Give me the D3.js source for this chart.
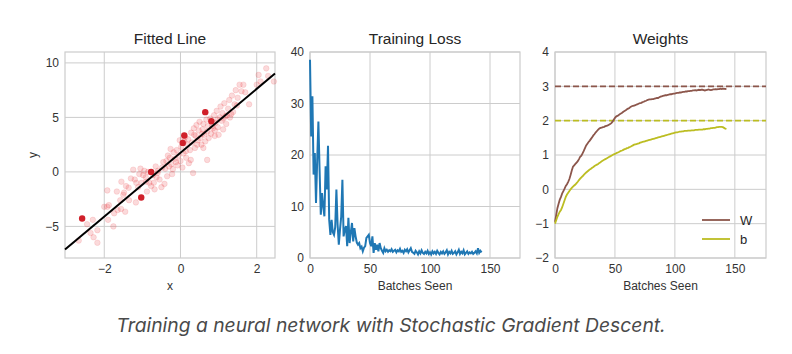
<!DOCTYPE html>
<html>
<head>
<meta charset="utf-8">
<script src="https://cdn.jsdelivr.net/npm/d3@7"></script>
<style>
  body { margin: 0; background: #fff; }
  svg text { font-family: "Liberation Sans", Arial, sans-serif; }
</style>
</head>
<body>
<div id="chart"></div>
<script>
// scatter of the training data (x, y)
let pointsX = [-2.67,-2.18,-2.36,-2.18,-2.3,-1.9,-1.76,-1.92,-1.88,-1.74,-1.65,-1.56,-1.45,-1.92,-1.67,-1.5,-1.48,-1.55,-1.43,-1.36,
  -1.24,-1.2,-1.16,-1.17,-1.11,-1.02,-0.95,-0.91,-0.82,-0.77,-0.7,-0.63,-0.59,-0.55,-0.5,-0.48,-0.42,-0.37,-0.33,-0.26,
  -0.24,-0.2,-0.15,-0.1,-0.08,-0.05,0.0,0.02,0.05,0.08,0.1,0.12,0.15,0.18,0.2,0.22,0.25,0.28,0.3,0.33,
  0.35,0.38,0.4,0.42,0.45,0.48,0.5,0.52,0.55,0.58,0.6,0.62,0.65,0.68,0.7,0.72,0.7,0.78,0.8,0.85,
  0.88,0.9,0.92,0.95,0.98,1.0,1.03,1.05,1.08,1.1,1.12,1.15,1.18,1.2,1.25,1.28,1.3,1.35,1.38,1.42,
  1.45,1.5,1.55,1.6,1.65,1.7,1.8,2.0,2.05,2.1,2.25,2.3,2.45,-0.45,-0.4,-0.35,-0.3,-0.28,-0.22,-0.18,
  -0.12,-0.6,-0.65,-0.72,-0.85,-0.88,-0.98,-1.05,-1.3,-1.35,-1.58,-2.0,-2.45,-2.28,
  -0.02,0.14,0.27,0.44,0.57,0.74,0.83,0.97,1.13,1.33,-0.68,-0.9,-1.08,0.36,0.6,0.9,1.22,1.48];
let pointsY = [-6.3,-6.5,-5.6,-5.35,-4.4,-4.4,-5.0,-3.2,-3.05,-3.8,-3.5,-3.4,-3.65,-1.7,-1.8,-2.1,-1.9,-0.9,-1.3,-1.45,
  0.2,-0.7,-1.0,-2.8,-1.4,-1.0,0.1,-0.5,-1.0,-1.3,-1.0,-0.5,0.1,-0.7,-1.4,0.4,-1.1,1.0,1.5,2.1,
  0.7,0.25,1.2,2.0,0.6,1.5,1.0,2.3,0.4,1.7,2.8,3.2,1.3,2.5,3.0,0.8,2.0,3.6,2.7,-0.1,
  4.0,2.2,3.3,4.3,2.9,3.8,4.6,3.1,2.5,3.9,4.4,3.4,2.8,4.8,3.7,4.2,1.1,4.9,3.5,4.0,
  5.2,3.8,4.5,5.6,4.1,3.4,5.0,6.0,4.7,5.4,3.9,6.3,5.1,4.4,5.8,6.6,5.0,7.0,5.5,6.2,
  7.5,6.8,8.0,7.4,8.0,7.3,6.2,8.0,8.9,8.3,9.5,8.8,8.3,0.9,0.3,-0.4,0.5,1.3,-0.2,1.8,
  0.9,-0.1,0.5,-0.3,0.0,-1.8,-0.3,0.3,-0.6,-2.6,-2.6,-3.2,-4.8,-6.0,
  2.9,1.9,1.1,2.5,3.5,3.1,4.2,4.8,4.9,5.3,-1.6,-0.9,-0.2,3.4,2.2,3.3,5.2,6.1];
// the current mini-batch
let batchX = [-2.58,-1.03,-0.77,0.06,0.1,0.65,0.81];
let batchY = [-4.27,-2.35,0.0,2.66,3.34,5.48,4.65];

// loss for each batch
let loss = [38.5,23.6,31.4,16.2,20.4,10.7,19.0,26.5,17.0,8.4,12.6,10.0,8.1,17.8,13.3,21.8,7.4,4.5,7.4,5.0,
  4.5,6.0,13.3,6.5,2.6,5.5,8.0,15.2,4.2,5.5,6.2,2.3,7.8,2.9,5.0,6.8,3.2,5.8,4.2,3.0,
  2.6,2.9,1.9,2.2,1.3,2.0,2.3,3.9,4.2,4.5,2.9,2.3,4.2,1.0,2.9,1.6,2.6,1.3,2.9,1.9,
  1.4,1.0,1.9,1.3,1.6,1.2,1.5,1.3,1.7,1.2,1.4,1.6,1.1,1.5,1.3,1.8,1.2,1.4,1.0,1.6,
  1.3,1.7,1.1,1.5,1.9,1.2,1.0,0.8,1.4,1.1,0.7,1.3,0.9,1.5,1.0,0.8,1.2,0.9,1.4,0.8,
  1.1,0.7,1.3,0.9,1.2,0.8,1.4,1.0,0.7,1.2,0.9,1.3,0.8,1.1,1.5,0.7,1.2,0.9,1.4,0.8,
  1.0,1.3,0.7,1.1,1.6,0.8,1.2,0.9,1.5,0.7,1.0,1.3,0.8,1.1,0.9,1.2,0.8,1.0,1.3,0.9,
  1.9,1.0,1.4,1.1];

// weights after each batch
let weightW = [-0.95,-0.75,-0.55,-0.42,-0.3,-0.22,-0.12,-0.05,0.02,0.1,0.15,0.22,0.3,0.42,0.55,0.66,0.7,0.74,0.78,0.82,
  0.88,0.95,0.98,1.05,1.12,1.2,1.28,1.33,1.38,1.42,1.47,1.52,1.57,1.61,1.66,1.7,1.74,1.77,1.79,1.8,
  1.81,1.82,1.84,1.85,1.86,1.88,1.9,1.93,1.97,2.03,2.08,2.12,2.14,2.16,2.19,2.21,2.23,2.26,2.28,2.3,
  2.33,2.35,2.37,2.4,2.42,2.43,2.44,2.45,2.47,2.48,2.5,2.51,2.52,2.54,2.55,2.57,2.58,2.6,2.61,2.62,
  2.62,2.63,2.63,2.64,2.65,2.66,2.66,2.68,2.7,2.71,2.72,2.73,2.74,2.74,2.75,2.76,2.77,2.77,2.78,2.79,
  2.79,2.8,2.81,2.81,2.82,2.82,2.83,2.84,2.84,2.85,2.85,2.86,2.86,2.87,2.87,2.88,2.88,2.89,2.88,2.89,
  2.9,2.89,2.9,2.9,2.89,2.88,2.89,2.9,2.91,2.9,2.89,2.9,2.91,2.91,2.92,2.91,2.92,2.92,2.93,2.92,
  2.93,2.93,2.92,2.93];
let weightB = [-1.0,-0.9,-0.8,-0.72,-0.65,-0.6,-0.52,-0.42,-0.32,-0.22,-0.15,-0.1,-0.05,0.0,0.04,0.08,0.11,0.14,0.18,0.22,
  0.27,0.31,0.35,0.38,0.42,0.46,0.49,0.52,0.55,0.58,0.6,0.63,0.65,0.68,0.7,0.72,0.74,0.77,0.79,0.82,
  0.84,0.86,0.88,0.9,0.92,0.94,0.96,0.98,1.0,1.02,1.03,1.05,1.07,1.08,1.1,1.12,1.13,1.15,1.17,1.18,
  1.2,1.21,1.23,1.24,1.26,1.28,1.3,1.31,1.32,1.33,1.34,1.36,1.37,1.38,1.39,1.4,1.41,1.42,1.43,1.44,
  1.45,1.46,1.47,1.48,1.49,1.5,1.51,1.52,1.53,1.54,1.55,1.56,1.57,1.58,1.59,1.6,1.61,1.62,1.63,1.64,
  1.65,1.66,1.66,1.67,1.68,1.68,1.69,1.69,1.7,1.7,1.7,1.71,1.71,1.71,1.72,1.72,1.72,1.73,1.73,1.73,
  1.74,1.74,1.74,1.74,1.75,1.75,1.76,1.76,1.77,1.77,1.78,1.78,1.79,1.79,1.8,1.81,1.81,1.82,1.82,1.82,
  1.81,1.79,1.77,1.76];
let trueW = 3, trueB = 2;

let ticks1X = [-2, 0, 2], ticks1Y = [-5, 0, 5, 10];
let ticks2X = [0, 50, 100, 150], ticks2Y = [0, 10, 20, 30, 40];
let ticks3X = [0, 50, 100, 150], ticks3Y = [-2, -1, 0, 1, 2, 3, 4];

let svg = d3.select("#chart").append("svg")
    .attr("width", 792)
    .attr("height", 354)

let plotTop = 52, plotBottom = 258;

function panel(left, right, xDomain, yDomain, xTicks, yTicks, title, xLabel, yLabel){
    let x = d3.scaleLinear().domain(xDomain).range([left, right])
    let y = d3.scaleLinear().domain(yDomain).range([plotBottom, plotTop])
    let g = svg.append("g")
    let fmt = d => d < 0 ? "\u2212" + Math.abs(d) : d
    // grid
    xTicks.forEach(t => {
        g.append("line").attr("x1", x(t)).attr("x2", x(t)).attr("y1", plotTop).attr("y2", plotBottom)
            .style("stroke", "#cccccc").style("stroke-width", 1)
    })
    yTicks.forEach(t => {
        g.append("line").attr("x1", left).attr("x2", right).attr("y1", y(t)).attr("y2", y(t))
            .style("stroke", "#cccccc").style("stroke-width", 1)
    })
    g.append("rect").attr("x", left).attr("y", plotTop).attr("width", right-left).attr("height", plotBottom-plotTop)
        .style("fill", "none").style("stroke", "#cccccc").style("stroke-width", 1.2)
    // axes, ticks hidden like in whitegrid
    let ax = g.append("g").attr("transform", "translate(0," + plotBottom + ")")
        .call(d3.axisBottom(x).tickValues(xTicks).tickSize(0).tickPadding(6).tickFormat(fmt))
    let ay = g.append("g").attr("transform", "translate(" + left + ",0)")
        .call(d3.axisLeft(y).tickValues(yTicks).tickSize(0).tickPadding(6).tickFormat(fmt))
    ;[ax, ay].forEach(a => {
        a.select(".domain").remove()
        a.selectAll("text").style("font-size", "12px").style("fill", "#333")
            .style("font-family", "'Liberation Sans', Arial, sans-serif")
    })
    g.append("text").attr("x", (left+right)/2).attr("y", 44).attr("text-anchor", "middle")
        .style("font-size", "15.5px").style("fill", "#262626").text(title)
    if(xLabel){
        g.append("text").attr("x", (left+right)/2).attr("y", 290).attr("text-anchor", "middle")
            .style("font-size", "12px").style("fill", "#333").text(xLabel)
    }
    if(yLabel){
        g.append("text").attr("transform", "translate(37," + ((plotTop+plotBottom)/2) + ") rotate(-90)")
            .attr("text-anchor", "middle").style("font-size", "12px").style("fill", "#333").text(yLabel)
    }
    return { x, y, g }
}

// panel 1: fitted line
let p1 = panel(65, 275, [-3.03, 2.48], [-7.9, 11], ticks1X, ticks1Y, "Fitted Line", "x", "y")
let pts = pointsX.map((v, i) => ({ x: v, y: pointsY[i] }))
p1.g.selectAll(".pt").data(pts).enter().append("circle")
    .attr("cx", d => p1.x(d.x)).attr("cy", d => p1.y(d.y)).attr("r", 2.8)
    .style("fill", "#e8333a").style("fill-opacity", 0.18)
    .style("stroke", "#e8333a").style("stroke-opacity", 0.12)
let batch = batchX.map((v, i) => ({ x: v, y: batchY[i] }))
p1.g.selectAll(".bp").data(batch).enter().append("circle")
    .attr("cx", d => p1.x(d.x)).attr("cy", d => p1.y(d.y)).attr("r", 3.2)
    .style("fill", "#d0202a")
let fitW = weightW[weightW.length-1], fitB = weightB[weightB.length-1]
let xd = p1.x.domain()
p1.g.append("line")
    .attr("x1", p1.x(xd[0])).attr("y1", p1.y(fitW*xd[0] + fitB))
    .attr("x2", p1.x(xd[1])).attr("y2", p1.y(fitW*xd[1] + fitB))
    .style("stroke", "#000").style("stroke-width", 2)

// panel 2: training loss
let p2 = panel(310, 520, [0, 175], [0, 40], ticks2X, ticks2Y, "Training Loss", "Batches Seen")
p2.g.append("path").datum(loss)
    .attr("d", d3.line().x((d, i) => p2.x(i)).y(d => p2.y(d)))
    .style("fill", "none").style("stroke", "#1f77b4").style("stroke-width", 2)

// panel 3: weights
let p3 = panel(555, 766, [0, 176], [-2, 4], ticks3X, ticks3Y, "Weights", "Batches Seen")
let colW = "#8c564b", colB = "#bcbd22"
;[[trueW, colW], [trueB, colB]].forEach(([v, c]) => {
    p3.g.append("line").attr("x1", 555).attr("x2", 766).attr("y1", p3.y(v)).attr("y2", p3.y(v))
        .style("stroke", c).style("stroke-width", 1.8).style("stroke-dasharray", "6,3")
})
let wline = d3.line().x((d, i) => p3.x(i)).y(d => p3.y(d))
p3.g.append("path").datum(weightW).attr("d", wline)
    .style("fill", "none").style("stroke", colW).style("stroke-width", 1.8)
p3.g.append("path").datum(weightB).attr("d", wline)
    .style("fill", "none").style("stroke", colB).style("stroke-width", 1.8)

let legend = p3.g.append("g")
;[["W", colW, 220], ["b", colB, 239]].forEach(([name, c, ly]) => {
    legend.append("line").attr("x1", 702).attr("x2", 730).attr("y1", ly).attr("y2", ly)
        .style("stroke", c).style("stroke-width", 1.8)
    legend.append("text").attr("x", 740).attr("y", ly + 4.5).style("font-size", "13px")
        .style("fill", "#262626").text(name)
})

// caption
svg.append("text").attr("x", 391).attr("y", 332).attr("text-anchor", "middle")
    .style("font-family", "Inter, 'Noto Sans', sans-serif").style("font-style", "italic")
    .style("font-size", "19.3px").style("fill", "#4a4a4a")
    .text("Training a neural network with Stochastic Gradient Descent.")
</script>
</body>
</html>
